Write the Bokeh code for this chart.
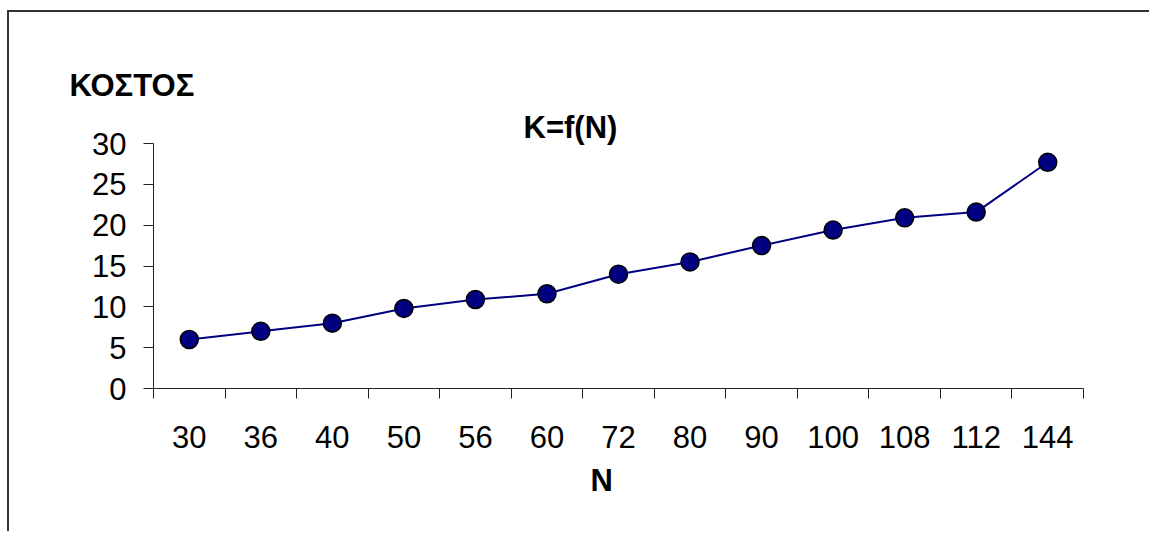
from bokeh.plotting import figure
from bokeh.models import Range1d, FixedTicker, Title
from bokeh.embed import file_html
from bokeh.resources import INLINE

# ---- data ----
categories = ["30", "36", "40", "50", "56", "60", "72", "80", "90", "100", "108", "112", "144"]
cost = [6.0, 7.0, 8.0, 9.8, 10.9, 11.6, 14.0, 15.5, 17.5, 19.4, 20.9, 21.6, 27.7]
y_ticks = [0, 5, 10, 15, 20, 25, 30]
y_label = "ΚΟΣΤΟΣ"
x_label = "N"
chart_title = "K=f(N)"

xs = list(range(1, len(categories) + 1))

FONT = "Liberation Sans"

p = figure(
    output_backend="svg",
    toolbar_location=None,
    frame_width=930,
    frame_height=245,
    min_border_left=144,
    min_border_top=131,
    min_border_right=66,
    min_border_bottom=143,
    x_range=Range1d(0.5, len(categories) + 0.5),
    y_range=Range1d(0, 30),
    title=None,
)
p.styles = {"border-top": "2px solid #333333", "border-left": "2px solid #333333",
            "margin-top": "10px", "margin-left": "7px"}
p.outline_line_color = None
p.xgrid.visible = False
p.ygrid.visible = False
p.background_fill_color = "white"
p.border_fill_color = "white"

# x axis: labels at category centres, ticks at category boundaries
xa = p.xaxis[0]
xa.ticker = FixedTicker(ticks=xs, minor_ticks=[x - 0.5 for x in xs] + [len(xs) + 0.5])
xa.major_label_overrides = {x: c for x, c in zip(xs, categories)}
xa.major_tick_out = 0
xa.major_tick_in = 0
xa.minor_tick_out = 10
xa.minor_tick_in = 0
xa.minor_tick_line_color = "#222222"
xa.axis_line_color = "#222222"
xa.major_label_standoff = 27
xa.major_label_text_font = FONT
xa.major_label_text_font_size = "31px"
xa.major_label_text_color = "black"

ya = p.yaxis[0]
ya.ticker = FixedTicker(ticks=y_ticks)
ya.major_tick_out = 10
ya.major_tick_in = 0
ya.minor_tick_line_color = None
ya.major_tick_line_color = "#222222"
ya.axis_line_color = "#222222"
ya.major_label_standoff = 17
ya.major_label_text_font = FONT
ya.major_label_text_font_size = "31px"
ya.major_label_text_color = "black"

p.line(xs, cost, line_color="#000080", line_width=2)
p.scatter(xs, cost, size=18, fill_color="#000080", line_color="black", line_width=1.5)

t_main = Title(text=chart_title, align="left", offset=370, standoff=-3,
               text_font=FONT, text_font_style="bold", text_font_size="31px", text_color="black")
t_y = Title(text=y_label, align="left", offset=-84, standoff=13,
            text_font=FONT, text_font_style="bold", text_font_size="31px", text_color="black")
t_x = Title(text=x_label, align="left", offset=437, standoff=20,
            text_font=FONT, text_font_style="bold", text_font_size="31px", text_color="black")
p.add_layout(t_main, "above")
p.add_layout(t_y, "above")
p.add_layout(t_x, "below")

open("out.html", "w").write(file_html(p, INLINE))
